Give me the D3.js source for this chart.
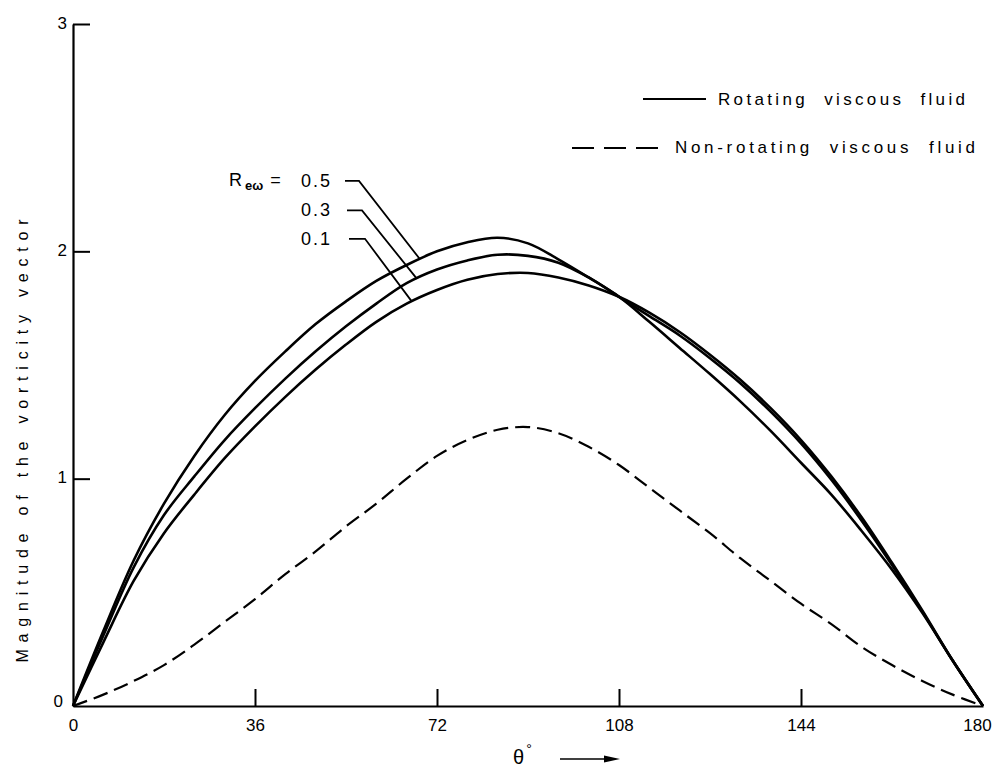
<!DOCTYPE html>
<html><head><meta charset="utf-8">
<script src="https://cdn.jsdelivr.net/npm/d3@7"></script>
<style>body{margin:0;background:#fff}svg{display:block}text{font-family:"Liberation Sans",Arial,sans-serif;fill:#000}</style>
</head><body><svg id="c" width="995" height="767"></svg>
<script>
// ---- data (theta in degrees, every 6°) ----
const theta = [0,6,12,18,24,30,36,42,48,54,60,66,72,78,84,90,96,102,108,114,120,126,132,138,144,150,156,162,168,174,180];
const rew05 = [0,0.33,0.64,0.89,1.10,1.28,1.43,1.56,1.68,1.78,1.87,1.94,2.00,2.04,2.06,2.035,1.965,1.885,1.80,1.69,1.575,1.46,1.34,1.21,1.07,0.93,0.77,0.60,0.41,0.20,0];
const rew03 = [0,0.31,0.61,0.84,1.01,1.17,1.31,1.44,1.56,1.67,1.77,1.86,1.92,1.96,1.985,1.98,1.95,1.885,1.80,1.715,1.63,1.53,1.42,1.295,1.155,0.995,0.815,0.62,0.415,0.20,0];
const rew01 = [0,0.28,0.55,0.76,0.93,1.09,1.23,1.36,1.48,1.59,1.69,1.77,1.83,1.875,1.90,1.905,1.885,1.85,1.80,1.73,1.645,1.545,1.435,1.31,1.17,1.01,0.83,0.63,0.42,0.20,0];
const nonRot = [0,0.05,0.11,0.18,0.27,0.37,0.47,0.58,0.68,0.79,0.89,1.00,1.10,1.17,1.215,1.227,1.20,1.14,1.06,0.96,0.86,0.76,0.65,0.55,0.45,0.36,0.26,0.18,0.11,0.05,0];
const xTicks = [0,36,72,108,144,180];
const yTicks = [0,1,2,3];
const rLabels = ["0.5","0.3","0.1"];
const legendLabels = ["Rotating  viscous  fluid","Non-rotating  viscous  fluid"];

const svg = d3.select("#c");
const x = d3.scaleLinear().domain([0,180]).range([73,983]);
const y = d3.scaleLinear().domain([0,3]).range([706,24]);
const FONT = "Liberation Sans, Arial, sans-serif";

// axes
const gx = svg.append("g").attr("transform","translate(0,706)")
  .call(d3.axisBottom(x).tickValues(xTicks).tickFormat(d3.format("d")).tickSizeInner(-17).tickSizeOuter(0).tickPadding(13));
gx.select(".domain").attr("stroke","#000").attr("stroke-width",2.2);
gx.selectAll(".tick line").attr("stroke","#000").attr("stroke-width",2).filter(d=>d===0||d===180).remove();
gx.selectAll(".tick text").attr("font-size",17).style("font-family",FONT).attr("dx",d=>d===180?-6:0);

const gy = svg.append("g").attr("transform","translate(73,0)")
  .call(d3.axisLeft(y).tickValues(yTicks).tickFormat(d3.format("d")).tickSizeInner(-17).tickSizeOuter(0).tickPadding(7));
gy.select(".domain").attr("stroke","#000").attr("stroke-width",2.2);
gy.selectAll(".tick line").attr("stroke","#000").attr("stroke-width",2).filter(d=>d===0).remove();
gy.selectAll(".tick text").attr("font-size",17).attr("dy",d=>d===0?"0.05em":"0.25em").attr("x",d=>d===0?-10:-6)
  .style("font-family",FONT);

// curves
const line = d3.line().x(d=>x(d[0])).y(d=>y(d[1])).curve(d3.curveCatmullRom.alpha(0.5));
const series = [rew05,rew03,rew01];
series.forEach(v=>{
  svg.append("path").datum(theta.map((d,i)=>[d,v[i]])).attr("d",line)
    .attr("fill","none").attr("stroke","#000").attr("stroke-width",2.6);
});
svg.append("path").datum(theta.map((d,i)=>[d,nonRot[i]])).attr("d",line)
  .attr("fill","none").attr("stroke","#000").attr("stroke-width",2.2).attr("stroke-dasharray","15,7");

// annotations (label rows in data units; leader ends on the curve)
const annTheta = [68.6,68,67];
const annLabelY = [2.31,2.18,2.055];
function interp(v,d){ for(let i=1;i<theta.length;i++){ if(d<=theta[i]){const f=(d-theta[i-1])/(theta[i]-theta[i-1]);return v[i-1]+f*(v[i]-v[i-1]);} } return 0; }
rLabels.forEach((lab,i)=>{
  const ly = y(annLabelY[i]);
  const lx0 = 345+i*2, lx1 = 359+i*3;
  const ex = x(annTheta[i]), ey = y(interp(series[i],annTheta[i]));
  svg.append("path").attr("d",`M${lx0},${ly}L${lx1},${ly}L${ex},${ey}`)
    .attr("fill","none").attr("stroke","#000").attr("stroke-width",1.8);
  svg.append("text").attr("x",332).attr("y",ly+6).attr("text-anchor","end")
    .attr("font-size",18).attr("letter-spacing",2).text(lab);
});
const rt = svg.append("text").attr("x",229).attr("y",y(annLabelY[0])+5).attr("font-size",18);
rt.append("tspan").text("R");
rt.append("tspan").attr("dy",4).attr("font-size",13).attr("font-weight","bold").attr("dx",3).text("eω");
rt.append("tspan").attr("dy",-4).attr("dx",7).text("=");

// legend
svg.append("line").attr("x1",643).attr("x2",706).attr("y1",99).attr("y2",99).attr("stroke","#000").attr("stroke-width",2.2);
svg.append("text").attr("x",718).attr("y",105).attr("font-size",17).attr("textLength",247).attr("lengthAdjust","spacing").style("white-space","pre").text(legendLabels[0]);
svg.append("line").attr("x1",572).attr("x2",658).attr("y1",148).attr("y2",148).attr("stroke","#000").attr("stroke-width",2.2).attr("stroke-dasharray","22,10");
svg.append("text").attr("x",675).attr("y",153).attr("font-size",17).attr("textLength",300).attr("lengthAdjust","spacing").style("white-space","pre").text(legendLabels[1]);

// axis titles
svg.append("text").attr("transform","translate(28,441) rotate(-90)").attr("text-anchor","middle")
  .attr("font-size",16).attr("textLength",443).attr("lengthAdjust","spacing").text("Magnitude of the vorticity vector");
const th = svg.append("text").attr("x",513).attr("y",764).attr("font-size",20);
th.append("tspan").text("θ");
th.append("tspan").attr("dy",-10).attr("dx",2).attr("font-size",14).text("°");
svg.append("line").attr("x1",560).attr("x2",608).attr("y1",759).attr("y2",759).attr("stroke","#000").attr("stroke-width",1.6);
svg.append("path").attr("d","M604,755.5L620,759L604,762.5Z").attr("fill","#000");
</script></body></html>
